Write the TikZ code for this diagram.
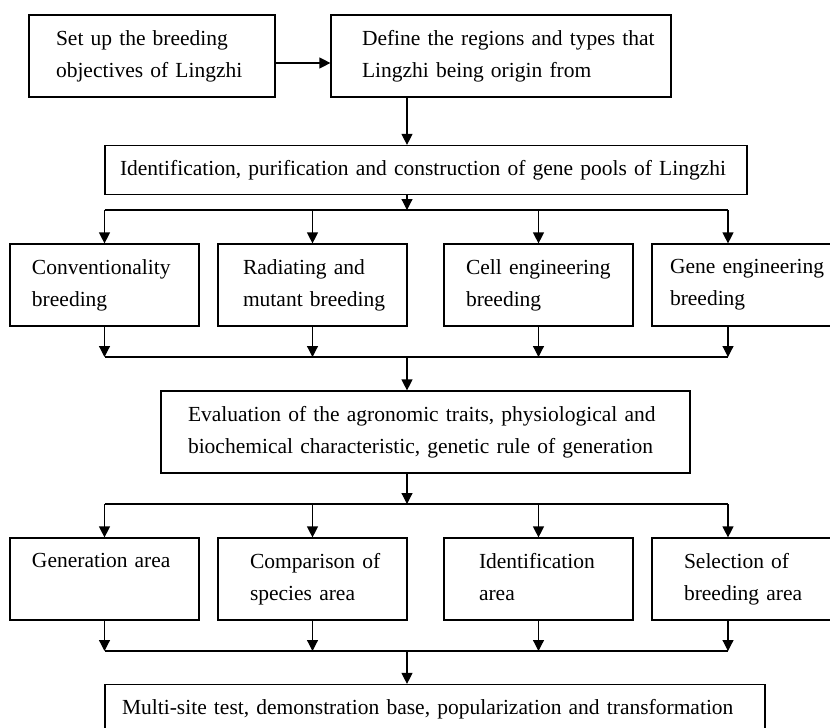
\documentclass[tikz,border=0pt]{standalone}
\usepackage{fontspec}
\setmainfont{Liberation Serif}
\usetikzlibrary{positioning,arrows.meta}

\begin{document}
\begin{tikzpicture}[
  x=0.5pt, y=-0.5pt,
  box/.style 2 args={rectangle, draw, line width=0.6pt, inner xsep=0pt, inner ysep=0pt,
              text width=#1, minimum height=41pt, font=\fontsize{10.75}{16}\selectfont,
              execute at begin node={\leftskip=#2\rightskip=0pt plus 1fil\parindent=0pt\relax},
              execute at end node={\vphantom{g}}},
  wide/.style 2 args={box={#1}{#2}, minimum height=24.5pt},
  arrow/.style={-{Triangle[length=5.5pt,width=5.5pt]}, line width=0.6pt},
  link/.style={line width=0.6pt}
]
\useasboundingbox (0,0) rectangle (830,728);
\clip (0,0) rectangle (830,728);

% top row and gene pool
\node[box={123pt}{13.5pt}] (obj) at (152,56) {Set up the breeding\\objectives of Lingzhi};
\node[box={170pt}{15.5pt}] (reg) at (501,56) {Define the regions and types that\\Lingzhi being origin from};
\node[wide={321pt}{7.5pt}] (pool) at (426,170) {Identification, purification and construction of gene pools of Lingzhi};

% breeding methods
\node[box={94.5pt}{11pt}]   (conv) at (104.5,285) {Conventionality\\breeding};
\node[box={94.5pt}{12.5pt}] (rad)  at (312.5,285) {Radiating and\\mutant breeding};
\node[box={94.5pt}{11pt}]   (cell) at (538.5,285) {Cell engineering\\breeding};
\node[box={94.5pt}{9pt}]    (gene) at (746.5,285) {Gene engineering\\breeding};

\node[box={264.5pt}{13.5pt}] (eval) at (425.5,432) {Evaluation of the agronomic traits, physiological and\\biochemical characteristic, genetic rule of generation};

% test areas
\node[box={94.5pt}{11pt}]   (genr)  at (104.5,579) {Generation area\\\vphantom{g}};
\node[box={94.5pt}{16pt}]   (comp)  at (312.5,579) {Comparison of\\species area};
\node[box={94.5pt}{17.5pt}] (ident) at (538.5,579) {Identification\\area};
\node[box={94.5pt}{16pt}]   (sel)   at (746.5,579) {Selection of\\breeding area};

\node[wide={330pt}{8.5pt}] (test) at (435,709) {Multi-site test, demonstration base, popularization and transformation};

% split and merge points
\coordinate (s1) at (407,210);
\coordinate (m1) at (407,357);
\coordinate (s2) at (407,504);
\coordinate (m2) at (407,651);
\coordinate (gcol) at (728,0);

\draw[arrow] (obj.east |- 0,63) -- (reg.west |- 0,63);
\draw[arrow] (reg.south -| s1) -- (pool.north -| s1);
\draw[arrow] (pool.south -| s1) -- (s1);

\draw[link] (conv.north |- s1) -- (s1 -| gcol);
\foreach \n in {conv,rad,cell}
  \draw[arrow] (\n.north |- s1) -- (\n.north);
\draw[arrow] (s1 -| gcol) -- (gene.north -| gcol);

\foreach \n in {conv,rad,cell}
  \draw[arrow] (\n.south) -- (\n.south |- m1);
\draw[arrow] (gene.south -| gcol) -- (m1 -| gcol);
\draw[link] (conv.south |- m1) -- (m1 -| gcol);
\draw[arrow] (m1) -- (eval.north -| m1);

\draw[arrow] (eval.south -| s2) -- (s2);
\draw[link] (genr.north |- s2) -- (s2 -| gcol);
\foreach \n in {genr,comp,ident}
  \draw[arrow] (\n.north |- s2) -- (\n.north);
\draw[arrow] (s2 -| gcol) -- (sel.north -| gcol);

\foreach \n in {genr,comp,ident}
  \draw[arrow] (\n.south) -- (\n.south |- m2);
\draw[arrow] (sel.south -| gcol) -- (m2 -| gcol);
\draw[link] (genr.south |- m2) -- (m2 -| gcol);
\draw[arrow] (m2) -- (test.north -| m2);
\end{tikzpicture}
\end{document}
